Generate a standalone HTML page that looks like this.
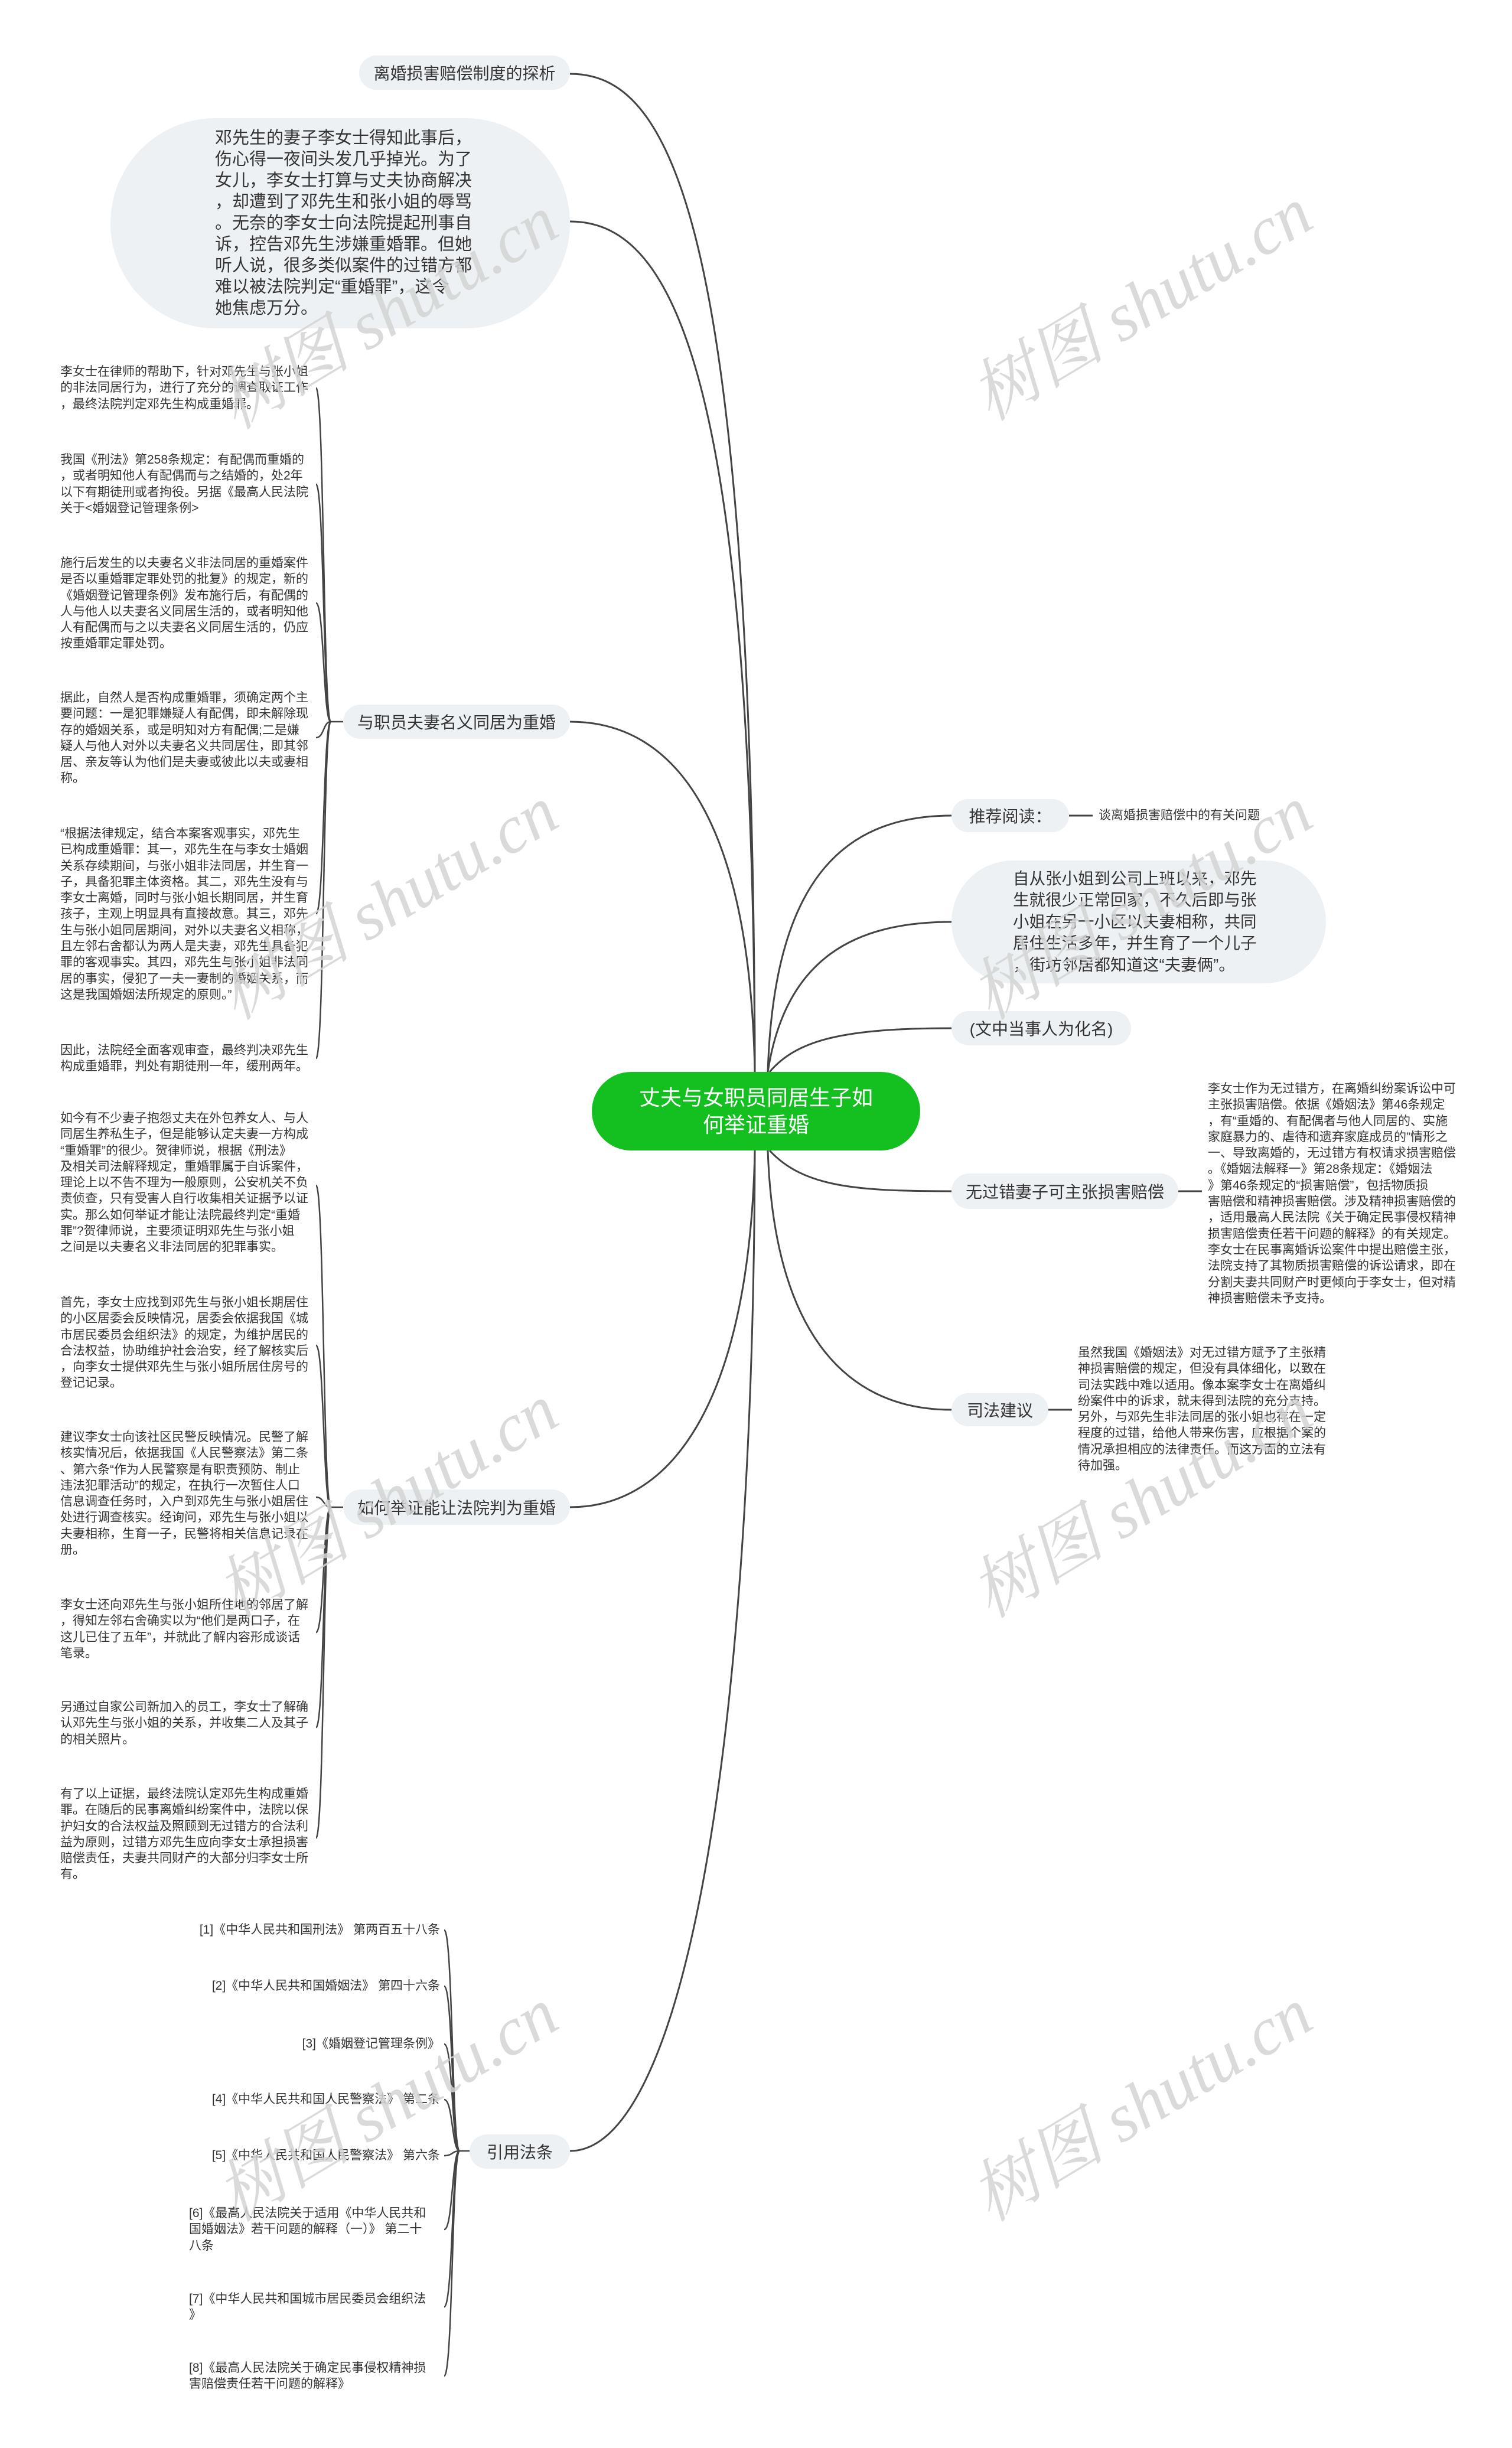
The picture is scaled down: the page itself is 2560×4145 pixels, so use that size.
<!DOCTYPE html>
<html><head><meta charset="utf-8">
<style>
body{margin:0;background:#fff;}
#c{position:relative;width:2560px;height:4145px;overflow:hidden;background:#fff;font-family:"Liberation Sans","Noto Sans CJK SC",sans-serif;color:#333;}
.p{position:absolute;background:#eef1f4;display:flex;align-items:center;justify-content:center;white-space:nowrap;font-size:28px;color:#333;}
.t{position:absolute;font-size:21px;line-height:27.3px;white-space:nowrap;color:#333;}
.r{text-align:right;}
.wm{position:absolute;font-family:"Liberation Serif","Noto Serif CJK SC",serif;font-style:italic;font-size:115px;color:#d4d4d4;white-space:nowrap;transform:translate(-50%,-50%) rotate(-31deg);opacity:.85;}
svg{position:absolute;left:0;top:0;}
</style></head><body><div id="c">
<svg width="2560" height="4145" fill="none" stroke="#444" stroke-width="3">
<path d="M965 125 C1130 125,1275 350,1278 1815"/>
<path d="M965 375 C1130 375,1275 600,1278 1815"/>
<path d="M965 1222 C1150 1222,1270 1400,1278 1815"/>
<path d="M1300 1815 C1310 1500,1420 1381,1611 1381"/>
<path d="M1300 1815 C1330 1620,1450 1561,1611 1561"/>
<path d="M1303 1815 C1350 1760,1430 1741,1611 1741"/>
<path d="M1303 1948 C1360 2010,1450 2017,1611 2017"/>
<path d="M1300 1948 C1310 2240,1420 2387,1611 2387"/>
<path d="M1278 1948 C1270 2350,1150 2552,965 2552"/>
<path d="M1278 1948 C1275 3000,1150 3642,965 3642"/>
<path d="M1810 1381 L1850 1381"/>
<path d="M1995 2017 L2035 2017"/>
<path d="M1775 2387 L1815 2387"/>
<g stroke-width="2.5">
<path d="M581 1222 L560 1222"/>
<path d="M560 1222 C547 1222,549 657,535 657"/>
<path d="M560 1222 C547 1222,549 820,535 820"/>
<path d="M560 1222 C547 1222,549 1021,535 1021"/>
<path d="M560 1222 C547 1222,549 1249,535 1249"/>
<path d="M560 1222 C547 1222,549 1547,535 1547"/>
<path d="M560 1222 C547 1222,549 1792,535 1792"/>
<path d="M581 2552 L560 2552"/>
<path d="M560 2552 C547 2552,549 2007,535 2007"/>
<path d="M560 2552 C547 2552,549 2278,535 2278"/>
<path d="M560 2552 C547 2552,549 2535,535 2535"/>
<path d="M560 2552 C547 2552,549 2764,535 2764"/>
<path d="M560 2552 C547 2552,549 2925,535 2925"/>
<path d="M560 2552 C547 2552,549 3112,535 3112"/>
<path d="M795 3642 L778 3642"/>
<path d="M778 3642 C765 3642,767 3268,752 3268"/>
<path d="M778 3642 C765 3642,767 3363,752 3363"/>
<path d="M778 3642 C765 3642,767 3461,752 3461"/>
<path d="M778 3642 C765 3642,767 3555,752 3555"/>
<path d="M778 3642 C765 3642,767 3650,752 3650"/>
<path d="M778 3642 C765 3642,767 3775,752 3775"/>
<path d="M778 3642 C765 3642,767 3906,752 3906"/>
<path d="M778 3642 C765 3642,767 4023,752 4023"/>
</g>
</svg>

<div style="position:absolute;left:1002px;top:1815px;width:556px;height:133px;background:#13c01f;border-radius:67px;color:#fff;font-size:36px;line-height:46px;text-align:center;display:flex;align-items:center;justify-content:center;">丈夫与女职员同居生子如<br>何举证重婚</div>

<div class="p" style="left:608px;top:94px;width:357px;height:58px;border-radius:29px;">离婚损害赔偿制度的探析</div>
<div class="p" style="left:187px;top:200px;width:778px;height:356px;border-radius:180px;font-size:29px;line-height:36px;white-space:normal;justify-content:flex-start;padding-left:177px;box-sizing:border-box;"><div style="white-space:nowrap">邓先生的妻子李女士得知此事后，<br>伤心得一夜间头发几乎掉光。为了<br>女儿，李女士打算与丈夫协商解决<br>，却遭到了邓先生和张小姐的辱骂<br>。无奈的李女士向法院提起刑事自<br>诉，控告邓先生涉嫌重婚罪。但她<br>听人说，很多类似案件的过错方都<br>难以被法院判定“重婚罪”，这令<br>她焦虑万分。</div></div>
<div class="p" style="left:581px;top:1193px;width:384px;height:58px;border-radius:29px;">与职员夫妻名义同居为重婚</div>
<div class="p" style="left:581px;top:2522px;width:384px;height:60px;border-radius:30px;">如何举证能让法院判为重婚</div>
<div class="p" style="left:795px;top:3614px;width:170px;height:58px;border-radius:29px;">引用法条</div>

<div class="p" style="left:1611px;top:1353px;width:199px;height:56px;border-radius:28px;">推荐阅读：</div>
<div class="t" style="left:1860px;top:1367px;">谈离婚损害赔偿中的有关问题</div>
<div class="p" style="left:1611px;top:1457px;width:634px;height:208px;border-radius:104px;font-size:27.5px;line-height:36.5px;justify-content:flex-start;padding-left:104px;box-sizing:border-box;"><div>自从张小姐到公司上班以来，邓先<br>生就很少正常回家，不久后即与张<br>小姐在另一小区以夫妻相称，共同<br>居住生活多年，并生育了一个儿子<br>，街坊邻居都知道这“夫妻俩”。</div></div>
<div class="p" style="left:1611px;top:1712px;width:304px;height:58px;border-radius:29px;">(文中当事人为化名)</div>
<div class="p" style="left:1611px;top:1987px;width:384px;height:60px;border-radius:30px;">无过错妻子可主张损害赔偿</div>
<div class="p" style="left:1611px;top:2359px;width:164px;height:56px;border-radius:28px;">司法建议</div>

<div class="t" style="left:2045px;top:1830px;">李女士作为无过错方，在离婚纠纷案诉讼中可<br>主张损害赔偿。依据《婚姻法》第46条规定<br>，有“重婚的、有配偶者与他人同居的、实施<br>家庭暴力的、虐待和遗弃家庭成员的”情形之<br>一、导致离婚的，无过错方有权请求损害赔偿<br>。《婚姻法解释一》第28条规定：《婚姻法<br>》第46条规定的“损害赔偿”，包括物质损<br>害赔偿和精神损害赔偿。涉及精神损害赔偿的<br>，适用最高人民法院《关于确定民事侵权精神<br>损害赔偿责任若干问题的解释》的有关规定。<br>李女士在民事离婚诉讼案件中提出赔偿主张，<br>法院支持了其物质损害赔偿的诉讼请求，即在<br>分割夫妻共同财产时更倾向于李女士，但对精<br>神损害赔偿未予支持。</div>
<div class="t" style="left:1825px;top:2277px;">虽然我国《婚姻法》对无过错方赋予了主张精<br>神损害赔偿的规定，但没有具体细化，以致在<br>司法实践中难以适用。像本案李女士在离婚纠<br>纷案件中的诉求，就未得到法院的充分支持。<br>另外，与邓先生非法同居的张小姐也存在一定<br>程度的过错，给他人带来伤害，应根据个案的<br>情况承担相应的法律责任。而这方面的立法有<br>待加强。</div>

<div class="t" style="left:102px;top:616px;">李女士在律师的帮助下，针对邓先生与张小姐<br>的非法同居行为，进行了充分的调查取证工作<br>，最终法院判定邓先生构成重婚罪。</div>
<div class="t" style="left:102px;top:765px;">我国《刑法》第258条规定：有配偶而重婚的<br>，或者明知他人有配偶而与之结婚的，处2年<br>以下有期徒刑或者拘役。另据《最高人民法院<br>关于&lt;婚姻登记管理条例&gt;</div>
<div class="t" style="left:102px;top:940px;">施行后发生的以夫妻名义非法同居的重婚案件<br>是否以重婚罪定罪处罚的批复》的规定，新的<br>《婚姻登记管理条例》发布施行后，有配偶的<br>人与他人以夫妻名义同居生活的，或者明知他<br>人有配偶而与之以夫妻名义同居生活的，仍应<br>按重婚罪定罪处罚。</div>
<div class="t" style="left:102px;top:1168px;">据此，自然人是否构成重婚罪，须确定两个主<br>要问题：一是犯罪嫌疑人有配偶，即未解除现<br>存的婚姻关系，或是明知对方有配偶;二是嫌<br>疑人与他人对外以夫妻名义共同居住，即其邻<br>居、亲友等认为他们是夫妻或彼此以夫或妻相<br>称。</div>
<div class="t" style="left:102px;top:1398px;">“根据法律规定，结合本案客观事实，邓先生<br>已构成重婚罪：其一，邓先生在与李女士婚姻<br>关系存续期间，与张小姐非法同居，并生育一<br>子，具备犯罪主体资格。其二，邓先生没有与<br>李女士离婚，同时与张小姐长期同居，并生育<br>孩子，主观上明显具有直接故意。其三，邓先<br>生与张小姐同居期间，对外以夫妻名义相称，<br>且左邻右舍都认为两人是夫妻，邓先生具备犯<br>罪的客观事实。其四，邓先生与张小姐非法同<br>居的事实，侵犯了一夫一妻制的婚姻关系，而<br>这是我国婚姻法所规定的原则。”</div>
<div class="t" style="left:102px;top:1765px;">因此，法院经全面客观审查，最终判决邓先生<br>构成重婚罪，判处有期徒刑一年，缓刑两年。</div>

<div class="t" style="left:102px;top:1880px;">如今有不少妻子抱怨丈夫在外包养女人、与人<br>同居生养私生子，但是能够认定夫妻一方构成<br>“重婚罪”的很少。贺律师说，根据《刑法》<br>及相关司法解释规定，重婚罪属于自诉案件，<br>理论上以不告不理为一般原则，公安机关不负<br>责侦查，只有受害人自行收集相关证据予以证<br>实。那么如何举证才能让法院最终判定“重婚<br>罪”?贺律师说，主要须证明邓先生与张小姐<br>之间是以夫妻名义非法同居的犯罪事实。</div>
<div class="t" style="left:102px;top:2192px;">首先，李女士应找到邓先生与张小姐长期居住<br>的小区居委会反映情况，居委会依据我国《城<br>市居民委员会组织法》的规定，为维护居民的<br>合法权益，协助维护社会治安，经了解核实后<br>，向李女士提供邓先生与张小姐所居住房号的<br>登记记录。</div>
<div class="t" style="left:102px;top:2420px;">建议李女士向该社区民警反映情况。民警了解<br>核实情况后，依据我国《人民警察法》第二条<br>、第六条“作为人民警察是有职责预防、制止<br>违法犯罪活动”的规定，在执行一次暂住人口<br>信息调查任务时，入户到邓先生与张小姐居住<br>处进行调查核实。经询问，邓先生与张小姐以<br>夫妻相称，生育一子，民警将相关信息记录在<br>册。</div>
<div class="t" style="left:102px;top:2704px;">李女士还向邓先生与张小姐所住地的邻居了解<br>，得知左邻右舍确实以为“他们是两口子，在<br>这儿已住了五年”，并就此了解内容形成谈话<br>笔录。</div>
<div class="t" style="left:102px;top:2877px;">另通过自家公司新加入的员工，李女士了解确<br>认邓先生与张小姐的关系，并收集二人及其子<br>的相关照片。</div>
<div class="t" style="left:102px;top:3024px;">有了以上证据，最终法院认定邓先生构成重婚<br>罪。在随后的民事离婚纠纷案件中，法院以保<br>护妇女的合法权益及照顾到无过错方的合法利<br>益为原则，过错方邓先生应向李女士承担损害<br>赔偿责任，夫妻共同财产的大部分归李女士所<br>有。</div>

<div class="t r" style="right:1815px;top:3254px;">[1]《中华人民共和国刑法》 第两百五十八条</div>
<div class="t r" style="right:1815px;top:3349px;">[2]《中华人民共和国婚姻法》 第四十六条</div>
<div class="t r" style="right:1815px;top:3447px;">[3]《婚姻登记管理条例》</div>
<div class="t r" style="right:1815px;top:3541px;">[4]《中华人民共和国人民警察法》 第二条</div>
<div class="t r" style="right:1815px;top:3636px;">[5]《中华人民共和国人民警察法》 第六条</div>
<div class="t" style="left:320px;top:3734px;">[6]《最高人民法院关于适用《中华人民共和<br>国婚姻法》若干问题的解释（一）》 第二十<br>八条</div>
<div class="t" style="left:320px;top:3879px;">[7]《中华人民共和国城市居民委员会组织法<br>》</div>
<div class="t" style="left:320px;top:3996px;">[8]《最高人民法院关于确定民事侵权精神损<br>害赔偿责任若干问题的解释》</div>

<div class="wm" style="left:650px;top:520px;">树图 shutu.cn</div>
<div class="wm" style="left:1927px;top:506px;">树图 shutu.cn</div>
<div class="wm" style="left:650px;top:1520px;">树图 shutu.cn</div>
<div class="wm" style="left:1927px;top:1520px;">树图 shutu.cn</div>
<div class="wm" style="left:650px;top:2533px;">树图 shutu.cn</div>
<div class="wm" style="left:1927px;top:2533px;">树图 shutu.cn</div>
<div class="wm" style="left:650px;top:3555px;">树图 shutu.cn</div>
<div class="wm" style="left:1927px;top:3555px;">树图 shutu.cn</div>
</div></body></html>
